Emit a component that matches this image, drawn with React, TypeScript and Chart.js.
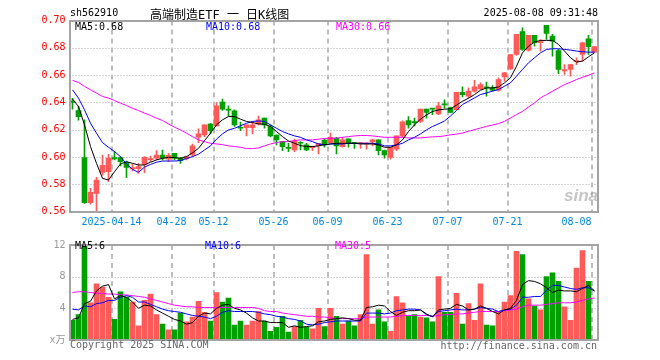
import React, { useEffect, useRef } from 'react';
import { Chart, registerables } from 'chart.js';
Chart.register(...registerables);

// ---------- data ----------
const dates = [
  '04-02','04-03','04-07','04-08','04-09','04-10','04-11','04-14','04-15','04-16','04-17','04-18','04-21','04-22','04-23','04-24','04-25','04-28','04-29','04-30',
  '05-06','05-07','05-08','05-09','05-12','05-13','05-14','05-15','05-16','05-19','05-20','05-21','05-22','05-23','05-26','05-27','05-28','05-29','05-30',
  '06-03','06-04','06-05','06-06','06-09','06-10','06-11','06-12','06-13','06-16','06-17','06-18','06-19','06-20','06-23','06-24','06-25','06-26','06-27','06-30',
  '07-01','07-02','07-03','07-04','07-07','07-08','07-09','07-10','07-11','07-14','07-15','07-16','07-17','07-18','07-21','07-22','07-23','07-24','07-25','07-28','07-29','07-30','07-31',
  '08-01','08-04','08-05','08-06','08-07','08-08'
];
const xTickDates = ['04-14','04-28','05-12','05-26','06-09','06-23','07-07','07-21','08-08'];
const xTickLabels = ['2025-04-14','04-28','05-12','05-26','06-09','06-23','07-07','07-21','08-08'];

const opens = [
  0.641,0.634,0.5995,0.5664,0.5733,0.5887,0.5892,0.5995,0.5995,0.596,0.5912,0.5914,0.5946,0.598,0.599,0.6014,0.5983,0.6027,0.599,0.5988,
  0.6014,0.6144,0.6161,0.624,0.6228,0.6402,0.6348,0.6338,0.6213,0.6215,0.6215,0.624,0.6284,0.6223,0.6161,0.6112,0.6066,0.6051,0.6102,
  0.6088,0.6068,0.6083,0.6124,0.6105,0.6139,0.6076,0.6132,0.6102,0.6098,0.6095,0.611,0.6125,0.6046,0.5997,0.6056,0.6154,0.6267,0.6255,0.626,
  0.635,0.6352,0.6316,0.6384,0.6362,0.6347,0.6474,0.6445,0.6482,0.6499,0.6508,0.6506,0.6489,0.6587,0.6646,0.6751,0.6918,0.6783,0.6891,0.6838,0.6964,0.6886,
  0.678,0.6631,0.6641,0.6699,0.6751,0.6866,0.6768
];
const highs = [
  0.643,0.637,0.6272,0.5769,0.585,0.6014,0.6019,0.6039,0.6002,0.597,0.5948,0.5953,0.6002,0.6007,0.6046,0.6051,0.6027,0.6027,0.5997,0.6007,
  0.6095,0.6206,0.6235,0.6247,0.6399,0.6424,0.6375,0.6345,0.6255,0.6235,0.626,0.63,0.6284,0.6235,0.6161,0.6112,0.61,0.613,0.6112,
  0.61,0.608,0.61,0.613,0.6174,0.6144,0.6144,0.6132,0.6102,0.6105,0.6105,0.613,0.6125,0.6051,0.6071,0.6154,0.6264,0.6296,0.6284,0.635,
  0.635,0.6352,0.64,0.6419,0.6366,0.6474,0.6513,0.6506,0.6562,0.6543,0.6548,0.6523,0.658,0.6621,0.6751,0.6898,0.6947,0.6891,0.6891,0.6861,0.6964,0.6898,
  0.6788,0.6677,0.6677,0.6726,0.6842,0.6891,0.6808
];
const lows = [
  0.635,0.627,0.566,0.5654,0.5598,0.5867,0.5818,0.5978,0.5934,0.5848,0.5897,0.588,0.5884,0.5966,0.5978,0.5978,0.5966,0.5978,0.5953,0.5978,
  0.6002,0.6105,0.6149,0.6169,0.6228,0.634,0.6301,0.6223,0.6193,0.6154,0.6169,0.6235,0.621,0.6149,0.6088,0.6046,0.6039,0.6039,0.6051,
  0.6046,0.6046,0.6022,0.6071,0.61,0.6022,0.6071,0.6071,0.6063,0.6063,0.6056,0.6081,0.6014,0.599,0.5983,0.6046,0.6144,0.621,0.6228,0.6252,
  0.6284,0.6309,0.6309,0.6357,0.6322,0.6345,0.644,0.6433,0.6474,0.6494,0.6445,0.6482,0.6482,0.6555,0.6641,0.6744,0.678,0.6776,0.6812,0.6775,0.6861,0.6739,
  0.6611,0.6604,0.6592,0.6677,0.6702,0.6751,0.6768
];
const closes = [
  0.640,0.6296,0.5664,0.574,0.583,0.5938,0.5992,0.5985,0.5966,0.5924,0.5922,0.5929,0.5997,0.5985,0.6014,0.599,0.6012,0.599,0.5973,0.6002,
  0.6081,0.6169,0.6235,0.6193,0.6375,0.635,0.6343,0.6235,0.621,0.6235,0.6235,0.6272,0.6235,0.6154,0.6124,0.6076,0.6063,0.6117,0.61,
  0.6051,0.6073,0.61,0.6088,0.6144,0.608,0.6125,0.61,0.61,0.61,0.6098,0.6125,0.6046,0.6014,0.6071,0.6154,0.6257,0.6235,0.6252,0.635,
  0.6326,0.635,0.6375,0.6382,0.6326,0.6474,0.6457,0.6482,0.6513,0.653,0.6506,0.6489,0.6567,0.6616,0.6751,0.6898,0.6788,0.6891,0.6837,0.6842,0.6905,0.6849,
  0.6641,0.6641,0.6677,0.6702,0.6837,0.6808,0.6808
];
const ma5 = [
  0.6424,0.637,0.6235,0.6076,0.5953,0.5843,0.5831,0.5892,0.5948,0.5965,0.5953,0.5941,0.5941,0.5961,0.5978,0.599,0.5997,0.5995,0.599,0.6002,
  0.603,0.6063,0.612,0.6174,0.6235,0.6272,0.6296,0.6296,0.6277,0.626,0.6252,0.6242,0.624,0.6223,0.6186,0.6149,0.6117,0.61,0.6083,
  0.6076,0.6076,0.6081,0.609,0.6095,0.61,0.61,0.61,0.61,0.6095,0.6095,0.6095,0.6088,0.6071,0.6071,0.6088,0.6125,0.6186,0.6235,0.6277,
  0.6308,0.6333,0.6345,0.635,0.6352,0.638,0.6408,0.643,0.6457,0.6489,0.6506,0.6506,0.6513,0.6543,0.658,0.6665,0.6763,0.6812,0.6842,0.6854,0.6854,0.6854,
  0.6825,0.6776,0.6727,0.6695,0.6702,0.6734,0.6763
];
const ma10 = [
  0.6492,0.6431,0.6345,0.6247,0.6174,0.6105,0.6071,0.6039,0.6002,0.5948,0.5909,0.5887,0.5925,0.5945,0.5961,0.597,0.597,0.597,0.5973,0.5988,
  0.6002,0.602,0.6051,0.6081,0.613,0.6169,0.6198,0.621,0.6228,0.6247,0.626,0.6264,0.626,0.6235,0.621,0.6186,0.6169,0.6154,0.6144,
  0.6125,0.6112,0.6095,0.6088,0.6095,0.6095,0.6095,0.61,0.61,0.61,0.61,0.61,0.6095,0.6081,0.6081,0.6088,0.61,0.6125,0.6144,0.6169,
  0.6198,0.6223,0.6242,0.6264,0.630,0.634,0.6384,0.6408,0.6433,0.6457,0.6469,0.6482,0.6494,0.6518,0.6543,0.6592,0.6641,0.669,0.6727,0.6763,0.6788,0.6793,
  0.6793,0.6788,0.6783,0.6776,0.6771,0.6768,0.6768
];
const ma30 = [
  0.6561,0.6546,0.6517,0.6492,0.6468,0.6443,0.6431,0.6414,0.6394,0.6377,0.6357,0.634,0.6321,0.6304,0.6284,0.6267,0.6242,0.6218,0.6198,0.6174,
  0.6149,0.6125,0.6112,0.61,0.6095,0.609,0.6081,0.6076,0.6071,0.6061,0.6061,0.6066,0.6081,0.6095,0.6105,0.6112,0.6112,0.612,0.6125,
  0.6125,0.6125,0.613,0.6135,0.6137,0.6137,0.6144,0.6149,0.6154,0.6157,0.6157,0.6154,0.6149,0.6144,0.6144,0.6144,0.6144,0.6139,0.6139,0.6139,
  0.6144,0.6147,0.6149,0.6154,0.6162,0.6167,0.6175,0.6188,0.62,0.6212,0.6224,0.6234,0.6244,0.6261,0.6286,0.631,0.6334,0.6366,0.6396,0.6433,0.6457,0.6482,
  0.6506,0.653,0.6548,0.6567,0.6584,0.6599,0.6616
];
const volumes = [
  2.5,3.2,12,4.7,7.1,6.7,5.4,2.6,6.1,5.4,4.8,1.8,5.0,5.8,3.2,2.0,1.3,1.3,3.4,2.3,
  2.9,4.9,3.5,2.4,6.0,4.8,5.3,1.9,2.4,1.9,2.4,3.6,2.4,1.1,1.6,3.0,1.0,1.7,2.5,
  1.6,1.4,4.0,1.7,4.0,3.0,2.0,2.4,1.8,3.2,10.8,2.0,3.8,2.3,1.1,5.5,4.7,3.0,3.2,2.9,
  2.8,2.3,8.0,3.5,3.5,5.9,2.0,4.6,2.5,7.1,1.9,1.8,3.6,4.8,5.6,11.2,10.8,5.2,4.3,3.8,8.0,8.5,
  7.4,4.2,2.5,9.1,11.3,7.4,0.1
];
const volMa5 = [
  2.6,2.8,4.6,4.9,6.2,6.8,7.0,5.2,5.6,5.4,4.8,4.0,4.4,4.3,3.8,3.4,3.0,2.6,2.4,2.0,
  2.2,3.0,3.4,3.3,4.0,4.4,4.5,4.0,3.8,3.4,2.8,2.4,2.4,2.2,2.2,2.2,1.6,1.8,1.6,
  1.7,1.8,2.3,2.4,2.6,2.7,2.8,2.7,2.5,2.5,4.1,4.2,4.4,4.3,3.6,3.1,3.5,3.7,3.7,3.8,
  3.3,2.9,3.8,3.9,4.0,4.5,4.3,3.8,3.9,4.3,4.0,3.6,3.3,3.8,4.0,5.0,7.0,7.5,7.4,7.1,6.6,6.0,
  6.3,6.2,6.2,6.1,6.5,6.9,6.2
];
const volMa10 = [
  3.9,3.8,4.3,4.2,4.6,4.7,5.0,5.0,5.4,5.6,5.4,4.8,4.8,4.5,4.2,3.9,3.7,3.6,3.5,3.3,
  3.1,3.0,2.9,2.7,3.0,3.5,3.7,3.6,3.6,3.6,3.6,3.5,3.3,3.2,3.0,2.9,2.7,2.6,2.4,
  2.0,1.9,2.0,2.2,2.3,2.4,2.4,2.4,2.4,2.4,3.4,3.4,3.4,3.3,3.4,3.7,3.8,3.9,3.9,3.8,
  3.2,3.0,3.6,3.7,3.8,3.9,3.8,3.8,3.9,4.1,4.0,3.9,3.6,3.8,3.9,4.4,5.4,5.4,5.5,5.5,6.3,6.9,
  6.9,6.7,6.5,6.4,6.6,6.6,6.2
];
const volMa30 = [
  6.0,6.1,6.1,6.0,5.9,5.9,5.8,5.8,5.7,5.7,5.6,5.5,5.4,5.2,5.0,4.8,4.6,4.4,4.3,4.2,
  4.2,4.1,4.1,4.1,4.1,4.1,4.1,4.1,4.1,4.1,4.1,4.0,3.7,3.6,3.6,3.4,3.3,3.2,3.1,
  3.0,3.0,2.9,2.9,2.8,2.7,2.7,2.7,2.7,2.7,2.9,2.9,2.9,2.9,2.9,3.0,3.1,3.1,3.1,3.1,
  3.1,3.0,3.1,3.2,3.2,3.3,3.3,3.4,3.5,3.6,3.6,3.6,3.6,3.7,3.8,3.9,4.2,4.4,4.4,4.4,4.5,4.6,
  4.7,4.7,4.7,4.8,5.0,5.2,5.3
];

// ---------- styles ----------
const RED = '#ff5a5a';
const GREEN = '#00a000';
const MONO = '"DejaVu Sans Mono", "Noto Sans CJK SC", monospace';
const LAST_LABEL_SHIFT = 2.5;

const candleColors = closes.map((c, i) => (c >= opens[i] ? RED : GREEN));
const gridIdx = xTickDates.map((d) => dates.indexOf(d));

const framePlugin = {
  id: 'kframe',
  beforeDatasetsDraw(chart: any) {
    const { ctx, chartArea: a, scales } = chart;
    const x = scales.x;
    const y = scales.y;
    ctx.save();
    ctx.lineWidth = 1;
    ctx.strokeStyle = '#a8a8a8';
    ctx.setLineDash([1, 2]);
    y.ticks.forEach((t: any) => {
      const py = Math.round(y.getPixelForValue(t.value)) + 0.5;
      if (py <= a.top + 2 || py >= a.bottom - 2) return;
      ctx.beginPath();
      ctx.moveTo(a.left, py);
      ctx.lineTo(a.right, py);
      ctx.stroke();
    });
    ctx.setLineDash([5, 4]);
    ctx.lineWidth = 2;
    ctx.strokeStyle = '#bdbdbd';
    gridIdx.forEach((idx) => {
      const px = Math.round(x.getPixelForValue(idx - 0.5));
      ctx.beginPath();
      ctx.moveTo(px, a.top);
      ctx.lineTo(px, a.bottom);
      ctx.stroke();
    });
    ctx.restore();
  },
  afterDatasetsDraw(chart: any) {
    const { ctx, chartArea: a } = chart;
    ctx.save();
    ctx.lineWidth = 2;
    ctx.strokeStyle = '#a4a4a4';
    ctx.setLineDash([]);
    const l = Math.round(a.left);
    const t = Math.round(a.top);
    const r = Math.round(a.right);
    const b = Math.round(a.bottom);
    ctx.strokeRect(l, t, r - l, b - t);
    ctx.restore();
  },
};

const idx = dates.map((_, i) => i);

function lineDs(values: number[], color: string) {
  return {
    type: 'line' as const,
    data: values.map((v, i) => ({ x: i, y: v })),
    borderColor: color,
    borderWidth: 1,
    pointRadius: 0,
    tension: 0,
    order: 0,
  };
}

function xScale(display: boolean) {
  const s: any = {
    type: 'linear' as const,
    display,
    min: -0.5,
    max: dates.length - 0.5,
    bounds: 'data' as const,
    offset: false,
    grid: { display: false, drawTicks: false },
    border: { display: false },
    afterBuildTicks: (scale: any) => {
      scale.ticks = xTickDates.map((d, k) => {
        const i = dates.indexOf(d);
        const v = k === xTickDates.length - 1 ? i - 0.5 - LAST_LABEL_SHIFT : i - 0.5;
        return { value: v, text: xTickLabels[k] };
      });
    },
    ticks: {
      autoSkip: false,
      maxRotation: 0,
      padding: 5,
      color: '#0088dd',
      font: { family: MONO, size: 10 },
      callback: (_v: any, i: number, ticks: any[]) => ticks[i].text,
    },
  };
  if (display) {
    s.afterFit = (scale: any) => {
      scale.height = 23.5;
    };
  }
  return s;
}

function yScale(min: number, max: number, step: number, color: string, cb: (v: number) => string) {
  return {
    type: 'linear' as const,
    min,
    max,
    grid: { display: false, drawTicks: false },
    border: { display: false },
    afterFit: (scale: any) => {
      scale.width = 69.5;
    },
    ticks: {
      stepSize: step,
      padding: 4,
      color,
      font: { family: MONO, size: 10 },
      callback: (v: any) => cb(Number(v)),
    },
  };
}

function MainChart() {
  const ref = useRef<HTMLCanvasElement>(null);
  useEffect(() => {
    const chart = new Chart(ref.current as HTMLCanvasElement, {
      type: 'bar',
      data: {
        datasets: [
          lineDs(ma5, '#000000'),
          lineDs(ma10, '#0000ff'),
          lineDs(ma30, '#ff00ff'),
          {
            type: 'bar',
            data: idx.map((i) => ({ x: i, y: [opens[i], closes[i]] })),
            backgroundColor: candleColors,
            barThickness: 5,
            minBarLength: 1,
            grouped: false,
            order: 1,
          } as any,
          {
            type: 'bar',
            data: idx.map((i) => ({ x: i, y: [lows[i], highs[i]] })),
            backgroundColor: candleColors,
            barThickness: 1,
            minBarLength: 1,
            grouped: false,
            order: 2,
          } as any,
        ],
      },
      options: {
        animation: false,
        responsive: false,
        layout: { autoPadding: false, padding: { left: 0, top: 20.5, right: 62.5, bottom: 0 } },
        plugins: { legend: { display: false }, tooltip: { enabled: false } },
        scales: {
          x: xScale(true),
          y: yScale(0.56, 0.7, 0.02, '#ff0000', (v) => v.toFixed(2)) as any,
        },
      },
      plugins: [framePlugin],
    });
    return () => chart.destroy();
  }, []);
  return <canvas ref={ref} width={660} height={235} style={{ position: 'absolute', left: 0, top: 0 }} />;
}

function VolumeChart() {
  const ref = useRef<HTMLCanvasElement>(null);
  useEffect(() => {
    const chart = new Chart(ref.current as HTMLCanvasElement, {
      type: 'bar',
      data: {
        datasets: [
          lineDs(volMa5, '#000000'),
          lineDs(volMa10, '#0000ff'),
          lineDs(volMa30, '#ff00ff'),
          {
            type: 'bar',
            data: idx.map((i) => ({ x: i, y: volumes[i] })),
            backgroundColor: candleColors,
            barThickness: 5,
            grouped: false,
            order: 1,
          } as any,
        ],
      },
      options: {
        animation: false,
        responsive: false,
        layout: { autoPadding: false, padding: { left: 0, top: 5.5, right: 62.5, bottom: 20 } },
        plugins: { legend: { display: false }, tooltip: { enabled: false } },
        scales: {
          x: xScale(false),
          y: yScale(0, 12, 4, '#999999', (v) => (v === 0 ? 'x万' : String(v))) as any,
        },
      },
      plugins: [framePlugin],
    });
    return () => chart.destroy();
  }, []);
  return <canvas ref={ref} width={660} height={125} style={{ position: 'absolute', left: 0, top: 235 }} />;
}

const txt = (extra: React.CSSProperties): React.CSSProperties => ({
  position: 'absolute',
  fontFamily: MONO,
  fontSize: 10,
  lineHeight: '12px',
  whiteSpace: 'pre',
  ...extra,
});

export default function App() {
  return (
    <div style={{ position: 'absolute', left: 0, top: 0, width: 660, height: 360, background: '#fff', overflow: 'hidden' }}>
      <MainChart />
      <VolumeChart />
      <div style={txt({ left: 70, top: 7, color: '#000' })}>sh562910</div>
      <div style={txt({ left: 150, top: 8, fontSize: 12, lineHeight: '14px', color: '#000' })}>高端制造ETF 一 日K线图</div>
      <div style={txt({ right: 62, top: 7, color: '#000' })}>2025-08-08 09:31:48</div>
      <div style={txt({ left: 75, top: 21, color: '#000' })}>MA5:0.68</div>
      <div style={txt({ left: 206, top: 21, color: '#0000ff' })}>MA10:0.68</div>
      <div style={txt({ left: 336, top: 21, color: '#ff00ff' })}>MA30:0.66</div>
      <div style={txt({ left: 75, top: 240, color: '#000' })}>MA5:6</div>
      <div style={txt({ left: 205, top: 240, color: '#0000ff' })}>MA10:6</div>
      <div style={txt({ left: 335, top: 240, color: '#ff00ff' })}>MA30:5</div>
      <div style={txt({ left: 70, top: 339, color: '#666' })}>Copyright 2025 SINA.COM</div>
      <div style={txt({ right: 63, top: 340, color: '#666' })}>http://finance.sina.com.cn</div>
      <div
        style={{
          position: 'absolute',
          left: 564,
          top: 186,
          fontFamily: '"Liberation Sans", Arial, sans-serif',
          fontStyle: 'italic',
          fontWeight: 'bold',
          fontSize: 17,
          lineHeight: '20px',
          color: 'rgba(160,160,160,0.6)',
        }}
      >
        sina
      </div>
    </div>
  );
}
